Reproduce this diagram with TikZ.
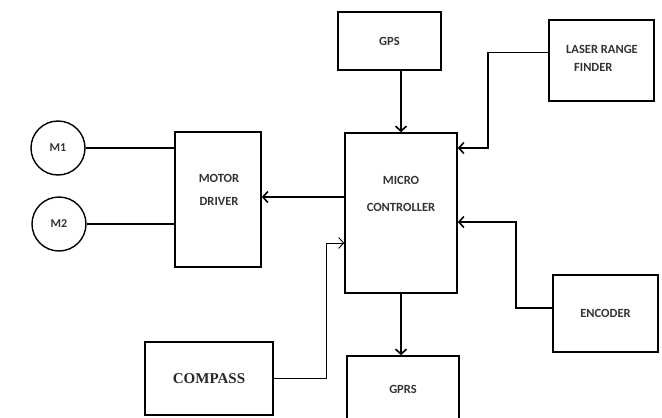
\documentclass[tikz,border=0pt]{standalone}
\usepackage{fontspec}
\setmainfont{Carlito}
\newfontfamily\timesfont{Liberation Serif}
\usetikzlibrary{arrows.meta, positioning}

\begin{document}
\begin{tikzpicture}[
    x=1pt, y=-1pt,
    >={Straight Barb[length=5pt, width=11pt]},
    block/.style={draw, line width=1.6pt, inner sep=0pt, minimum width=#1},
    block/.default=105pt,
    motor/.style={draw, circle, line width=1.4pt, minimum size=54pt, font=\fontsize{12}{14}\selectfont\bfseries, text=black!80},
    lbl/.style={font=\fontsize{12.5}{15}\selectfont\bfseries, text=black!80, align=center},
    link/.style={line width=1.6pt},
    arrow/.style={->, line width=1.6pt},
    thinarrow/.style={->, line width=0.9pt},
]
\clip (0,0) rectangle (662,418);

% Sensors and outputs
\node[block=103pt, minimum height=58pt, lbl] (gps) at (389.5, 41) {GPS};
\node[block, minimum height=81pt] (laser) at (601.5, 60.5) {};
\node[lbl, align=left] (lasertext) at (602, 58) {LASER RANGE\\[3pt]\hspace{8pt}FINDER};
\node[block, minimum height=77pt, lbl] (encoder) at (605.5, 313.5) {ENCODER};
\node[block=112pt, minimum height=66pt, lbl] (gprs) at (403, 389) {GPRS};
\node[block=128pt, minimum height=73pt, line width=2.8pt, font=\timesfont\fontsize{15}{16}\selectfont\bfseries, text=black!85] (compass) at (209, 378.5) {COMPASS};

% Controller and driver
\node[block=112pt, minimum height=160pt] (mcu) at (401, 213) {};
\node[lbl] (mcutext) at (401, 194) {MICRO\\[12pt]CONTROLLER};
\node[block=86pt, minimum height=135pt] (driver) at (218, 199.5) {};
\node[lbl] (drivertext) at (219, 189.5) {MOTOR\\[8pt]DRIVER};

% Motors
\node[motor] (m1) at (58, 148) {M1};
\node[motor] (m2) at (59, 224) {M2};

% Connection points on the controller
\coordinate (mcuL) at ([yshift=16pt]mcu.west);
\coordinate (mcuR1) at ([yshift=65pt]mcu.east);
\coordinate (mcuR2) at ([yshift=-9pt]mcu.east);
\coordinate (mcuL2) at ([yshift=-30pt]mcu.west);

% Arrows
\draw[link] (m1.east) -- (m1.east -| driver.west);
\draw[link] (m2.east) -- (m2.east -| driver.west);
\draw[arrow] (mcuL) -- (mcuL -| driver.east);
\draw[arrow] (mcu.north |- gps.south) -- (mcu.north);
\draw[arrow] ([yshift=8pt]laser.west) -- ++(-60,0) |- (mcuR1);
\draw[arrow] ([yshift=5.5pt]encoder.west) -- ++(-36,0) |- (mcuR2);
\draw[arrow] (mcu.south) -- (mcu.south |- gprs.north);
\draw[thinarrow] (compass.east) -- ++(52,0) |- (mcuL2);

\end{tikzpicture}
\end{document}
